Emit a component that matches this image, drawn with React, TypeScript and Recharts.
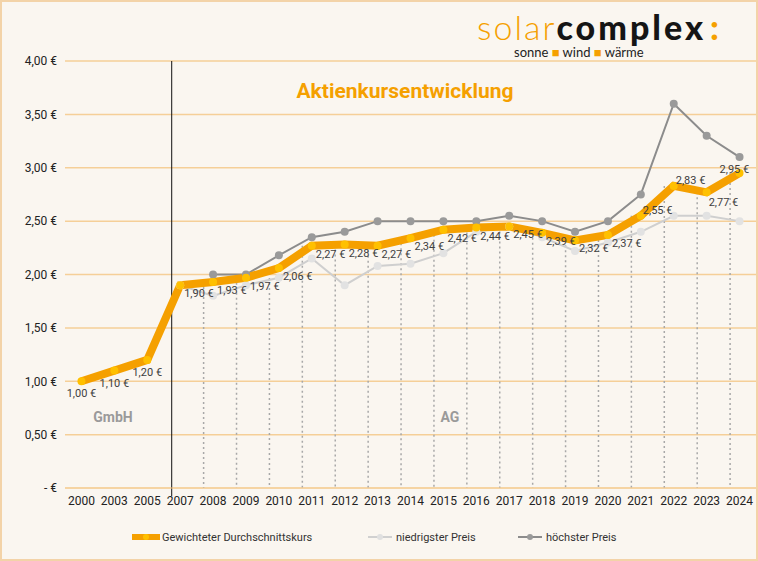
import React from 'react';
import { ComposedChart, Line, Bar, XAxis, YAxis, CartesianGrid, LabelList } from 'recharts';

const years = ['2000','2003','2005','2007','2008','2009','2010','2011','2012','2013','2014','2015','2016','2017','2018','2019','2020','2021','2022','2023','2024'];
const avg = [1.00,1.10,1.20,1.90,1.93,1.97,2.06,2.27,2.28,2.27,2.34,2.42,2.44,2.45,2.39,2.32,2.37,2.55,2.83,2.77,2.95];
const low = [null,null,null,1.90,1.80,1.90,1.97,2.15,1.90,2.08,2.10,2.20,2.40,2.45,2.35,2.22,2.30,2.40,2.55,2.55,2.50];
const high = [null,null,null,null,2.00,2.00,2.18,2.35,2.40,2.50,2.50,2.50,2.50,2.55,2.50,2.40,2.50,2.75,3.60,3.30,3.10];
const yTicks = [0,0.5,1,1.5,2,2.5,3,3.5,4];

const data = years.map((y, i) => ({
  year: y, avg: avg[i], low: low[i], high: high[i],
  drop: i >= 4 ? Math.max(avg[i], low[i] as number) : null,
  divider: i === 3 ? 4 : null,
}));

const fmt = (v: number) => v.toFixed(2).replace('.', ',') + ' €';

const DropShape = (p: any) => {
  if (p.value == null || !p.height) return null;
  const cx = p.x + p.width / 2;
  return <line x1={cx} x2={cx} y1={p.y} y2={p.y + p.height} stroke="#a8a8a8" strokeWidth={1.5} strokeDasharray="2 3" />;
};
const DivShape = (p: any) => {
  if (p.value == null || !p.height) return null;
  const cx = p.x + p.width / 2 - 17;
  return <line x1={cx} x2={cx} y1={p.y} y2={p.y + p.height + 8} stroke="#111" strokeWidth={1} />;
};

const AvgLabel = (p: any) => {
  const { x, y, value, index } = p;
  let dx = 0, dy = 16, anchor = 'middle';
  if (index >= 3) { dx = 4; dy = 12; anchor = 'start'; }
  if (index >= 17) { dx = 2; dy = -2; }
  if (index === 19) { dy = 14; }
  if (index === 20) { dx = -20; dy = 0; }
  return <text x={x + dx} y={y + dy} textAnchor={anchor} fontSize={11} fill="#404040" fontFamily="Roboto">{fmt(value)}</text>;
};

const Legend = () => (
  <g fontFamily="Roboto" fontSize={11} fill="#333">
    <line x1={132} x2={160} y1={537} y2={537} stroke="#f5a000" strokeWidth={6} />
    <circle cx={146} cy={537} r={3} fill="#ffc000" />
    <text x={162} y={541}>Gewichteter Durchschnittskurs</text>
    <line x1={368} x2={392} y1={537} y2={537} stroke="#d0d0d0" strokeWidth={2} />
    <circle cx={380} cy={537} r={3} fill="#e0e0e0" />
    <text x={396} y={541}>niedrigster Preis</text>
    <line x1={518} x2={542} y1={537} y2={537} stroke="#8c8c8c" strokeWidth={2} />
    <circle cx={530} cy={537} r={3} fill="#9a9a9a" />
    <text x={546} y={541}>höchster Preis</text>
  </g>
);

export default function App() {
  return (
    <div style={{ position: 'absolute', left: 0, top: 0, width: 758, height: 561, background: '#faf6f0', fontFamily: 'Roboto' }}>
      <div style={{ position: 'absolute', left: 0, top: 0, width: 754, height: 557, border: '2px solid #f3d3a8', pointerEvents: 'none' }} />
      <ComposedChart width={758} height={561} data={data} margin={{ top: 61, right: 2, bottom: 43, left: 10 }} barCategoryGap={0}>
        <CartesianGrid vertical={false} stroke="#f5cf98" strokeWidth={1.5} />
        <XAxis dataKey="year" tickLine={false} axisLine={{ stroke: '#f5cf98' }} tick={{ fontSize: 12, fill: '#222', fontFamily: 'Roboto' }} interval={0} />
        <YAxis domain={[0, 4]} ticks={yTicks} width={55} axisLine={false} tickLine={false}
          tickFormatter={(v: number) => (v === 0 ? '-    €' : fmt(v))} tick={{ fontSize: 12, fill: '#222', fontFamily: 'Roboto' }} />
        <Bar dataKey="drop" shape={DropShape} isAnimationActive={false} />
        <Bar dataKey="divider" shape={DivShape} isAnimationActive={false} />
        <Line dataKey="low" stroke="#cfcfcf" strokeWidth={2} dot={{ r: 4, fill: '#e2e2e2', stroke: 'none' }} isAnimationActive={false} />
        <Line dataKey="high" stroke="#8c8c8c" strokeWidth={2} dot={{ r: 4, fill: '#9a9a9a', stroke: 'none' }} isAnimationActive={false} />
        <Line dataKey="avg" stroke="#f5a000" strokeWidth={8} dot={{ r: 4, fill: '#ffc000', stroke: 'none' }} isAnimationActive={false}>
          <LabelList dataKey="avg" content={AvgLabel} />
        </Line>
        <text x={405} y={98} textAnchor="middle" fontSize={21} fontWeight={700} fill="#f5a000" fontFamily="Roboto">Aktienkursentwicklung</text>
        <text x={113} y={422} textAnchor="middle" fontSize={14} fontWeight={700} fill="#9a9a9a" fontFamily="Roboto">GmbH</text>
        <text x={450} y={422} textAnchor="middle" fontSize={14} fontWeight={700} fill="#9a9a9a" fontFamily="Roboto">AG</text>
        <text x={477} y={40} fontSize={34} fontFamily="Lato" letterSpacing={2}>
          <tspan fill="#f5a000" fontWeight={300}>solar</tspan>
          <tspan fill="#151515" fontWeight={900} letterSpacing={3}>complex</tspan>
          <tspan fill="#f5a000" fontWeight={900} dx={4}>:</tspan>
        </text>
        <text x={514} y={57} fontSize={13} fill="#222" fontFamily="Lato">sonne <tspan fill="#f5a000">■</tspan> wind <tspan fill="#f5a000">■</tspan> wärme</text>
        <Legend />
      </ComposedChart>
    </div>
  );
}
